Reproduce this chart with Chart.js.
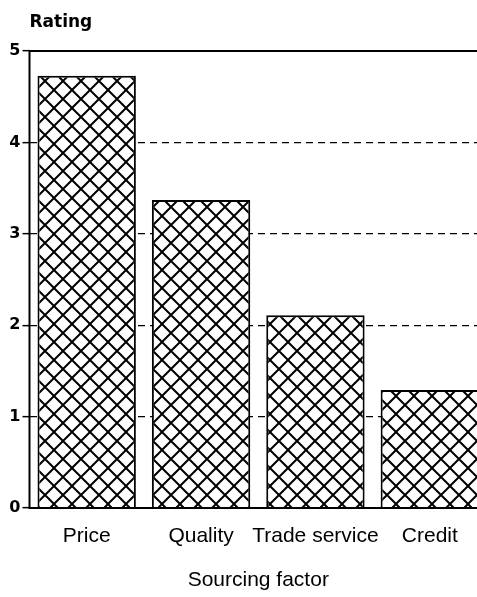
<!DOCTYPE html>
<html>
<head>
<meta charset="utf-8">
<script src="https://cdn.jsdelivr.net/npm/chart.js@4"></script>
<style>
  html, body { margin: 0; padding: 0; background: #fff; overflow: hidden; }
  #wrap { width: 490px; height: 597px; position: relative; }
</style>
</head>
<body>
<div id="wrap"><canvas id="chart" width="490" height="597"></canvas></div>
<script>
const categorias = ["Price", "Quality", "Trade service", "Credit"];
const rating = [4.73, 3.37, 2.11, 1.29];
const ticksY = [0, 1, 2, 3, 4, 5];

// trama cruzada
function crosshatch() {
  const c = document.createElement("canvas");
  c.width = 18; c.height = 18;
  const g = c.getContext("2d");
  g.fillStyle = "#fff";
  g.fillRect(0, 0, 18, 18);
  g.strokeStyle = "#000";
  g.lineWidth = 2;
  g.beginPath();
  g.moveTo(-1, -1); g.lineTo(19, 19);
  g.moveTo(19, -1); g.lineTo(-1, 19);
  g.stroke();
  return g.createPattern(c, "repeat");
}

const extras = {
  id: "extras",
  afterDraw(chart) {
    const { ctx, chartArea, scales } = chart;
    const y5 = scales.y.getPixelForValue(5);
    const y0 = scales.y.getPixelForValue(0);
    ctx.save();
    ctx.strokeStyle = "#000";
    ctx.lineWidth = 2;
    ctx.beginPath();
    ctx.moveTo(chartArea.left, y5);
    ctx.lineTo(chartArea.right, y5);
    ctx.moveTo(chartArea.left, y5);
    ctx.lineTo(chartArea.left, y0);
    ctx.lineTo(chartArea.right, y0);
    ctx.stroke();
    ctx.fillStyle = "#000";
    ctx.font = "bold 17px 'DejaVu Sans', sans-serif";
    ctx.textBaseline = "middle";
    ctx.fillText("Rating", chartArea.left, 23);
    ctx.restore();
  }
};

new Chart(document.getElementById("chart"), {
  type: "bar",
  data: {
    labels: categorias,
    datasets: [{
      data: rating,
      backgroundColor: crosshatch(),
      borderColor: "#000",
      borderWidth: 2,
      barPercentage: 0.86,
      categoryPercentage: 1
    }]
  },
  options: {
    responsive: false,
    animation: false,
    layout: { padding: { top: 51, right: 3, left: 0, bottom: 0 } },
    plugins: { legend: { display: false }, tooltip: { enabled: false } },
    scales: {
      x: {
        grid: { display: false },
        border: { display: false },
        ticks: {
          color: "#000",
          padding: 8,
          autoSkip: false,
          maxRotation: 0,
          minRotation: 0,
          font: { family: "'Liberation Sans', Arial, sans-serif", size: 21 }
        },
        title: {
          display: true,
          text: "Sourcing factor",
          color: "#000",
          padding: { top: 0, bottom: 4 },
          font: { family: "'Liberation Sans', Arial, sans-serif", size: 21 }
        },
        afterFit(scale) { scale.height = 89; }
      },
      y: {
        min: 0,
        max: 5,
        afterBuildTicks(scale) { scale.ticks = ticksY.map(v => ({ value: v })); },
        grid: {
          color: "#000",
          lineWidth: 1.3,
          tickLength: 7,
          tickColor: "#000",
          tickWidth: 1.5
        },
        border: { display: false, dash: [7, 5] },
        ticks: {
          color: "#000",
          padding: 2,
          font: { family: "'DejaVu Sans', sans-serif", size: 16, weight: "bold" }
        },
        afterFit(scale) { scale.width = 29.5; }
      }
    }
  },
  plugins: [extras]
});
</script>
</body>
</html>
